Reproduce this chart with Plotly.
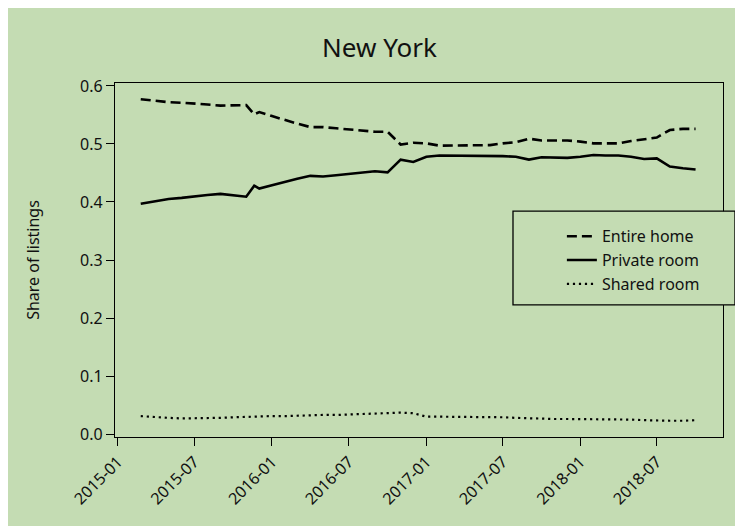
import plotly.graph_objects as go

dates = ["2015-02-24", "2015-04-01", "2015-05-01", "2015-06-01", "2015-07-01", "2015-08-01",
         "2015-09-01", "2015-10-01", "2015-11-01", "2015-11-20", "2015-12-02", "2016-01-01",
         "2016-02-01", "2016-03-01", "2016-04-01", "2016-05-01", "2016-06-01", "2016-07-01",
         "2016-08-01", "2016-09-01", "2016-10-01", "2016-11-01", "2016-12-01", "2017-01-01",
         "2017-02-01", "2017-03-01", "2017-04-01", "2017-05-01", "2017-06-01", "2017-07-01",
         "2017-08-01", "2017-09-01", "2017-10-01", "2017-11-01", "2017-12-01", "2018-01-01",
         "2018-02-01", "2018-03-01", "2018-04-01", "2018-05-01", "2018-06-01", "2018-07-01",
         "2018-08-01", "2018-09-01", "2018-10-01"]

entire_home = [0.577, 0.574, 0.572, 0.571, 0.570, 0.568, 0.566, 0.567, 0.567, 0.551, 0.555, 0.548,
               0.541, 0.535, 0.529, 0.529, 0.527, 0.525, 0.523, 0.521, 0.521, 0.499, 0.502, 0.501,
               0.497, 0.497, 0.497, 0.497, 0.498, 0.501, 0.503, 0.509, 0.506, 0.506, 0.506, 0.504,
               0.501, 0.501, 0.501, 0.505, 0.508, 0.511, 0.524, 0.526, 0.526]

private_room = [0.397, 0.401, 0.405, 0.407, 0.410, 0.412, 0.414, 0.411, 0.409, 0.428, 0.423, 0.429,
                0.435, 0.440, 0.445, 0.444, 0.446, 0.448, 0.451, 0.453, 0.451, 0.473, 0.469, 0.478,
                0.480, 0.480, 0.480, 0.480, 0.480, 0.479, 0.478, 0.473, 0.477, 0.477, 0.476, 0.478,
                0.481, 0.480, 0.480, 0.478, 0.474, 0.475, 0.461, 0.458, 0.456]

shared_room = [0.031, 0.029, 0.028, 0.027, 0.027, 0.027, 0.028, 0.029, 0.030, 0.030, 0.030, 0.031,
               0.031, 0.032, 0.032, 0.033, 0.033, 0.034, 0.034, 0.035, 0.036, 0.037, 0.036, 0.030,
               0.030, 0.030, 0.030, 0.029, 0.029, 0.029, 0.028, 0.027, 0.026, 0.026, 0.026, 0.026,
               0.026, 0.026, 0.026, 0.025, 0.024, 0.023, 0.023, 0.023, 0.024]

tick_vals = ["2015-01-01", "2015-07-01", "2016-01-01", "2016-07-01", "2017-01-01",
             "2017-07-01", "2018-01-01", "2018-07-01"]
tick_text = ["2015-01", "2015-07", "2016-01", "2016-07", "2017-01", "2017-07", "2018-01", "2018-07"]

BG = "#c4dcb3"
FONT = "Noto Sans"

fig = go.Figure()
fig.add_trace(go.Scatter(x=dates, y=entire_home, mode="lines", name="Entire home",
                         line=dict(color="black", width=2.6, dash="10px,5px")))
fig.add_trace(go.Scatter(x=dates, y=private_room, mode="lines", name="Private room",
                         line=dict(color="black", width=2.6)))
fig.add_trace(go.Scatter(x=dates, y=shared_room, mode="lines", name="Shared room",
                         line=dict(color="black", width=2.2, dash="2.2px,3.8px")))

fig.update_layout(
    width=743, height=526,
    paper_bgcolor=BG, plot_bgcolor=BG,
    font=dict(family=FONT, color="#111111", size=16),
    title=dict(text="New York", x=0.5, xanchor="center", y=0.925, yanchor="middle",
               font=dict(size=26, family=FONT, color="#111111")),
    margin=dict(l=107, r=28, t=75, b=97),
    showlegend=True,
    legend=dict(x=0.735, y=0.615, xanchor="left", yanchor="top",
                bgcolor="rgba(0,0,0,0)", borderwidth=0,
                font=dict(size=16, family=FONT, color="#111111"),
                tracegroupgap=0),
    shapes=[dict(type="rect", xref="paper", yref="paper",
                 x0=0.6546, x1=1.0197, y0=0.373, y1=0.638,
                 line=dict(color="black", width=1.3), fillcolor=BG, layer="above")],
)
fig.update_xaxes(range=["2014-12-25", "2018-12-05"], tickvals=tick_vals, ticktext=tick_text,
                 tickangle=-45, ticks="outside", ticklen=8, tickcolor="black", tickwidth=1.3,
                 showline=True, linecolor="black", linewidth=1.3, mirror=True,
                 showgrid=False, zeroline=False, tickfont=dict(size=16))
fig.update_yaxes(range=[-0.005, 0.605], tickvals=[0, 0.1, 0.2, 0.3, 0.4, 0.5, 0.6],
                 ticktext=["0.0", "0.1", "0.2", "0.3", "0.4", "0.5", "0.6"],
                 ticks="outside", ticklen=8, tickcolor="black", tickwidth=1.3,
                 showline=True, linecolor="black", linewidth=1.3, mirror=True,
                 showgrid=False, zeroline=False, tickfont=dict(size=16),
                 title=dict(text="Share of listings", font=dict(size=16), standoff=36))

fig.write_html("out.html")
